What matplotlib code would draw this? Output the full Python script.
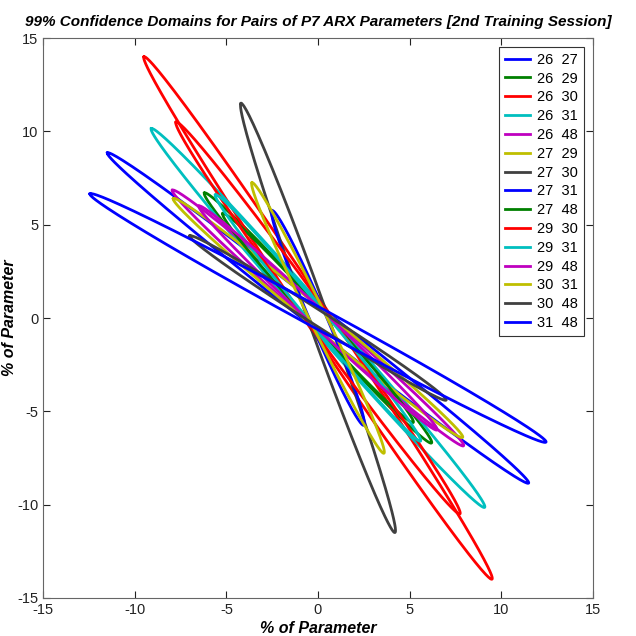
import numpy as np
import matplotlib
matplotlib.use("Agg")
from matplotlib import pyplot as plt

plt.rcParams['font.family'] = ['Liberation Sans', 'DejaVu Sans']
plt.rcParams['axes.unicode_minus'] = False

# parameter pairs and their ellipse tips (end of major axis) + minor half-width, in % of parameter
pairs = ["26  27", "26  29", "26  30", "26  31", "26  48", "27  29", "27  30", "27  31",
         "27  48", "29  30", "29  31", "29  48", "30  31", "30  48", "31  48"]
tip_x = [-11.5, -6.2, -9.5, -9.1, -7.95, -7.9, -4.2, -2.5, -5.2, -7.75, -5.6, -6.5, -3.6, -7.0, -12.45]
tip_y = [8.85, 6.7, 14.0, 10.15, 6.85, 6.4, 11.5, 5.75, 5.6, 10.5, 6.6, 6.0, 7.25, 4.4, 6.65]
half_w = [0.55, 0.5, 0.65, 0.6, 0.5, 0.5, 0.55, 0.45, 0.45, 0.6, 0.45, 0.45, 0.45, 0.4, 0.55]

colors = [(0, 0, 1), (0, 0.5, 0), (1, 0, 0), (0, 0.75, 0.75), (0.75, 0, 0.75),
          (0.75, 0.75, 0), (0.25, 0.25, 0.25)]

fig = plt.figure(figsize=(6.36, 6.36), dpi=100)
ax = fig.add_axes([0.068, 0.06, 0.864, 0.88])

t = np.linspace(0, 2 * np.pi, 300)
for i in range(len(pairs)):
    a = np.array([tip_x[i], tip_y[i]])
    n = np.array([-a[1], a[0]]) / np.hypot(a[0], a[1]) * half_w[i]
    x = np.cos(t) * a[0] + np.sin(t) * n[0]
    y = np.cos(t) * a[1] + np.sin(t) * n[1]
    ax.plot(x, y, color=colors[i % 7], lw=2.0, label=pairs[i])

ax.set_xlim(-15, 15)
ax.set_ylim(-15, 15)
ax.set_xticks(range(-15, 16, 5))
ax.set_yticks(range(-15, 16, 5))
ax.tick_params(direction="in", top=True, right=True, length=5, labelsize=10.5, colors="#222222")
for s in ax.spines.values():
    s.set_color("#666666")

ax.set_title("99% Confidence Domains for Pairs of P7 ARX Parameters [2nd Training Session]",
             fontsize=11, fontweight="bold", style="italic", pad=9)
ax.set_xlabel("% of Parameter", fontsize=11.5, fontweight="bold", style="italic", labelpad=3)
ax.set_ylabel("% of Parameter", fontsize=11.5, fontweight="bold", style="italic", labelpad=0)

leg = ax.legend(loc="upper right", fontsize=10.5, handlelength=1.7, labelspacing=0.33,
                borderpad=0.4, fancybox=False, framealpha=1, handletextpad=0.5,
                borderaxespad=0.6)
leg.get_frame().set_edgecolor("#333333")
leg.get_frame().set_linewidth(0.8)

plt.savefig("out.png", dpi=100)
